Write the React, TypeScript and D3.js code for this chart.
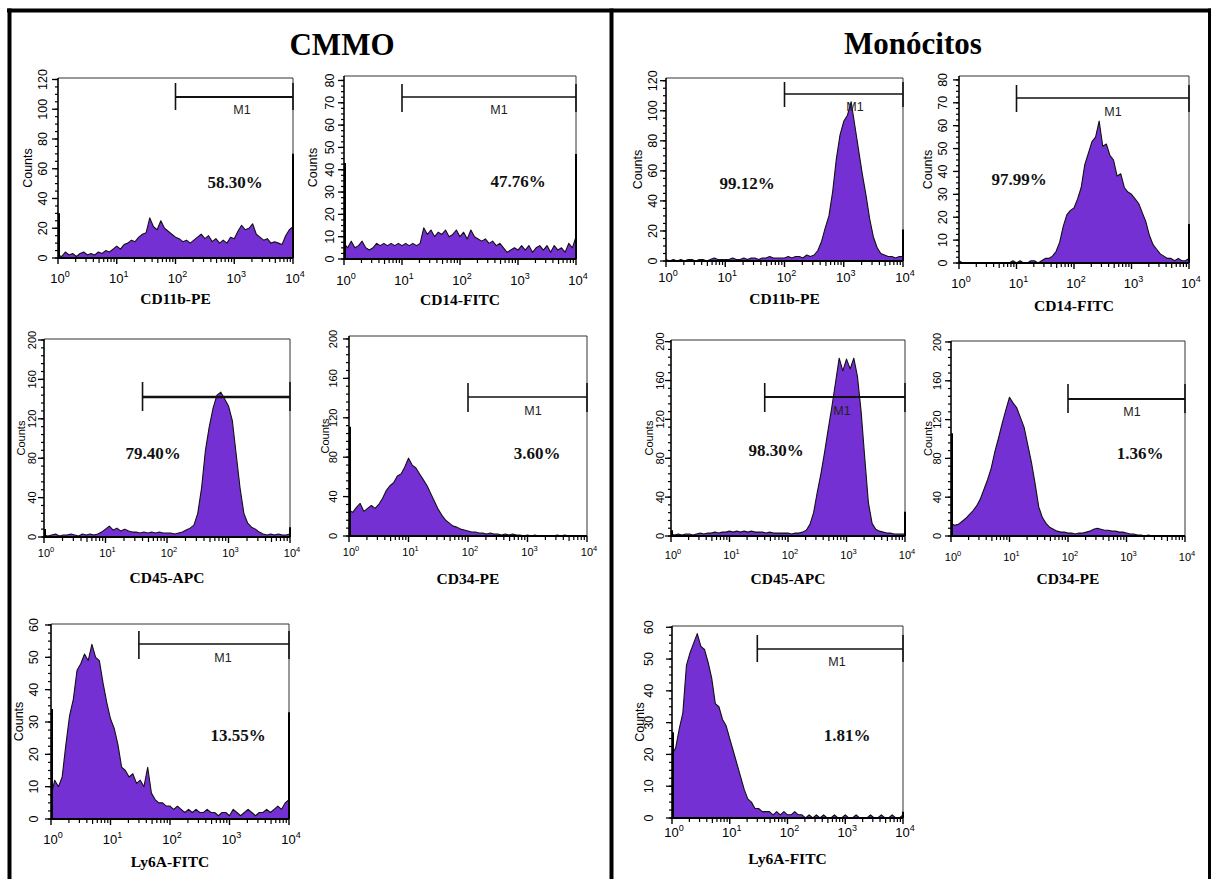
import React from 'react';
import * as d3 from 'd3';

// ---------- DATA (counts per channel, 16 channels per decade, 10^0 .. 10^4) ----------
const cmmoCD11b = [2,1,4,2,3,1,3,4,2,3,2,4,3,5,4,6,8,6,9,10,12,11,14,16,17,27,21,19,25,20,18,16,14,13,11,12,10,12,14,16,13,15,11,13,10,12,10,14,13,18,22,19,20,23,16,14,12,13,10,11,10,9,15,19,21];
const cmmoCD14 = [7,5,8,5,6,8,5,4,5,7,6,7,6,7,6,7,6,7,6,7,6,7,14,11,13,10,12,11,13,10,11,13,10,12,9,13,10,9,8,9,7,8,6,7,5,3,4,5,4,6,4,6,3,5,6,4,6,3,6,4,5,3,7,5,10];
const cmmoCD45 = [2,1,2,3,1,2,2,3,2,1,3,2,3,2,3,5,8,11,7,9,6,8,6,5,5,4,5,4,5,4,5,4,4,4,3,4,5,7,9,12,24,50,88,112,131,144,147,140,133,118,84,50,24,14,10,8,5,3,2,3,2,3,2,2,3];
const cmmoCD34 = [26,24,29,33,25,28,31,28,32,38,46,51,54,61,63,70,79,72,69,63,57,51,43,35,27,21,16,13,10,9,7,6,5,4,4,3,3,2,3,2,2,1,2,1,2,1,1,0,1,0,1,0,0,0,0,0,1,0,1,0,0,0,0,0,0];
const cmmoLy6A = [7,12,10,13,23,32,37,46,48,51,49,54,50,49,42,36,31,28,23,16,15,13,14,11,12,10,16,8,6,5,5,4,4,3,4,3,2,3,2,3,2,2,3,2,2,1,2,2,1,3,2,1,2,3,2,1,2,2,3,2,3,4,3,5,6];
const monoCD11b = [1,0,1,0,1,0,1,1,0,1,1,0,1,2,1,1,1,1,2,1,1,2,1,2,2,1,2,2,3,2,2,2,2,3,2,3,3,2,4,3,4,7,13,22,30,46,68,84,93,97,106,90,74,58,44,28,16,9,5,4,3,3,2,3,3];
const monoCD14 = [1,0,0,0,0,0,0,0,0,0,0,0,0,0,0,1,0,1,0,0,1,1,0,1,2,2,3,5,9,16,21,23,24,28,33,43,48,53,55,62,51,52,47,45,38,39,33,31,30,28,26,22,18,12,8,6,4,3,2,2,1,2,1,1,2];
const monoCD45 = [2,1,2,1,2,2,1,2,3,2,3,3,4,3,4,4,5,4,5,4,5,4,5,4,4,4,3,4,3,3,3,3,3,2,3,3,4,6,12,24,45,64,86,110,133,158,183,170,182,172,183,164,128,80,34,13,7,5,4,3,3,2,2,2,2];
const monoCD34 = [13,11,12,15,18,22,26,31,38,48,58,70,87,101,116,130,143,137,132,122,112,94,76,54,30,19,13,9,7,5,4,4,3,3,2,3,3,4,5,7,8,7,6,6,5,5,4,4,3,2,2,1,1,0,1,0,0,0,0,0,0,0,0,0,0];
const monoLy6A = [20,22,28,33,48,52,55,58,54,53,49,44,36,35,31,29,25,21,17,13,9,6,5,3,3,2,2,2,1,2,1,2,1,1,2,1,1,0,1,0,1,0,1,0,0,1,0,0,1,0,0,1,0,0,0,1,0,0,1,0,0,1,0,0,1];

const groupTitles = ['CMMO', 'Monócitos'];
const markers = ['CD11b-PE', 'CD14-FITC', 'CD45-APC', 'CD34-PE', 'Ly6A-FITC'];
const cmmoSeries = [cmmoCD11b, cmmoCD14, cmmoCD45, cmmoCD34, cmmoLy6A];
const monoSeries = [monoCD11b, monoCD14, monoCD45, monoCD34, monoLy6A];
const cmmoPercents = ['58.30%', '47.76%', '79.40%', '3.60%', '13.55%'];
const monoPercents = ['99.12%', '97.99%', '98.30%', '1.36%', '1.81%'];
const gateStarts = [100, 10, 40, 100, 30];
const cmmoLeftEdge = [30, 43, 8, 111, 34];
const cmmoRightEdge = [70, 47, 10, 0, 33];
const monoLeftEdge = [0, 0, 6, 106, 27];
const monoRightEdge = [21, 17, 25, 0, 2];
const yTicks120 = [0, 20, 40, 60, 80, 100, 120];
const yTicks80 = [0, 10, 20, 30, 40, 50, 60, 70, 80];
const yTicks200 = [0, 40, 80, 120, 160, 200];
const yTicks60 = [0, 10, 20, 30, 40, 50, 60];
const panelYTicks = [yTicks120, yTicks80, yTicks200, yTicks200, yTicks60];
const xDecades = [0, 1, 2, 3, 4];

// ---------- LAYOUT ----------
type L = {
  x0: number; x1: number; yTop: number; yZero: number; yMax: number; minorN: number;
  ylabDx: number; countsDx: number; xTickY: number; titleY: number;
  gateY: number; gateT: number; gateB: number; gateW: number;
  m1: [number, number] | null; pct: [number, number]; small: boolean;
};

const cmmoLayout: L[] = [
  { x0: 58, x1: 293, yTop: 78, yZero: 258, yMax: 121, minorN: 4, ylabDx: 15, countsDx: 30, xTickY: 278, titleY: 298, gateY: 97, gateT: 83, gateB: 110, gateW: 2, m1: [242, 110], pct: [235, 182], small: false },
  { x0: 344, x1: 576, yTop: 76, yZero: 259, yMax: 82, minorN: 4, ylabDx: 14, countsDx: 31, xTickY: 280, titleY: 299, gateY: 97, gateT: 84, gateB: 112, gateW: 1.6, m1: [499, 110], pct: [518, 181], small: false },
  { x0: 44, x1: 290, yTop: 339, yZero: 537, yMax: 201, minorN: 5, ylabDx: 12, countsDx: 23, xTickY: 552, titleY: 577, gateY: 397, gateT: 382, gateB: 411, gateW: 2.6, m1: null, pct: [153, 453], small: true },
  { x0: 349, x1: 587, yTop: 336, yZero: 536, yMax: 203, minorN: 5, ylabDx: 16, countsDx: 24, xTickY: 551, titleY: 578, gateY: 397, gateT: 383, gateB: 412, gateW: 1.6, m1: [533, 411], pct: [537, 453], small: true },
  { x0: 51, x1: 289, yTop: 624, yZero: 819, yMax: 60.3, minorN: 4, ylabDx: 17, countsDx: 32, xTickY: 839, titleY: 861, gateY: 644, gateT: 631, gateB: 659, gateW: 1.6, m1: [223, 658], pct: [238, 735], small: false },
];
const monoLayout: L[] = [
  { x0: 666, x1: 903, yTop: 78, yZero: 261, yMax: 121.8, minorN: 4, ylabDx: 13, countsDx: 28, xTickY: 277, titleY: 298, gateY: 94, gateT: 82, gateB: 107, gateW: 1.6, m1: [855, 107], pct: [747, 183], small: false },
  { x0: 959, x1: 1189, yTop: 76, yZero: 263, yMax: 81.7, minorN: 4, ylabDx: 16, countsDx: 31, xTickY: 283, titleY: 305, gateY: 98, gateT: 85, gateB: 112, gateW: 1.6, m1: [1113, 112], pct: [1019, 179], small: false },
  { x0: 671, x1: 905, yTop: 340, yZero: 536, yMax: 201.7, minorN: 5, ylabDx: 11, countsDx: 22, xTickY: 554, titleY: 578, gateY: 397, gateT: 383, gateB: 412, gateW: 1.8, m1: [842, 411], pct: [776, 450], small: true },
  { x0: 951, x1: 1185, yTop: 341, yZero: 536, yMax: 201, minorN: 5, ylabDx: 14, countsDx: 23, xTickY: 556, titleY: 578, gateY: 399, gateT: 384, gateB: 413, gateW: 1.8, m1: [1132, 412], pct: [1140, 453], small: true },
  { x0: 672, x1: 903, yTop: 626, yZero: 818, yMax: 60.4, minorN: 4, ylabDx: 23, countsDx: 32, xTickY: 832, titleY: 858, gateY: 649, gateT: 635, gateB: 662, gateW: 1.6, m1: [837, 662], pct: [847, 735], small: false },
];

const SANS = 'Liberation Sans, Arial, sans-serif';
const SERIF = 'Liberation Serif, Times New Roman, serif';
const FILL = '#7530d4';

type PanelProps = {
  lay: L; data: number[]; title: string; pct: string; gateFrom: number;
  ticks: number[]; edgeL: number; edgeR: number;
};

function Panel({ lay, data, title, pct, gateFrom, ticks, edgeL, edgeR }: PanelProps) {
  const x = d3.scaleLog().domain([1, 1e4]).range([lay.x0, lay.x1]);
  const y = d3.scaleLinear().domain([0, lay.yMax]).range([lay.yZero, lay.yTop]);
  const n = data.length - 1;
  const pts: [number, number][] = data.map((v, i) => [Math.pow(10, (4 * i) / n), v]);
  const area = d3.area<[number, number]>().x((d) => x(d[0])).y0(lay.yZero).y1((d) => y(d[1]));
  const line = d3.line<[number, number]>().x((d) => x(d[0])).y((d) => y(d[1]));
  const step = ticks[1] - ticks[0];
  const minor = d3.range(0, ticks[ticks.length - 1] + 0.001, step / lay.minorN);
  const xMinor: number[] = [];
  for (let k = 0; k < 4; k++) for (let m = 2; m <= 9; m++) xMinor.push(m * Math.pow(10, k));
  const tickFs = lay.small ? 11 : 12.5;
  const xFs = lay.small ? 11 : 13;
  const supFs = lay.small ? 7.5 : 9;
  const cy = (lay.yTop + lay.yZero) / 2;
  const cx = (lay.x0 + lay.x1) / 2;
  return (
    <g>
      {/* frame */}
      <line x1={lay.x0} y1={lay.yTop} x2={lay.x1} y2={lay.yTop} stroke="#333" strokeWidth={1} />
      <line x1={lay.x1} y1={lay.yTop} x2={lay.x1} y2={lay.yZero} stroke="#333" strokeWidth={1} />
      {/* histogram */}
      <path d={area(pts) || ''} fill={FILL} />
      <path d={line(pts) || ''} fill="none" stroke="#111" strokeWidth={1.1} strokeLinejoin="round" />
      {edgeL > 0 && <line x1={lay.x0 + 1} x2={lay.x0 + 1} y1={lay.yZero} y2={y(edgeL)} stroke="#000" strokeWidth={2} />}
      {edgeR > 0 && <line x1={lay.x1} x2={lay.x1} y1={lay.yZero} y2={y(edgeR)} stroke="#000" strokeWidth={2} />}
      {/* axes */}
      <line x1={lay.x0} y1={lay.yTop} x2={lay.x0} y2={lay.yZero + 1} stroke="#000" strokeWidth={1.6} />
      <line x1={lay.x0} y1={lay.yZero} x2={lay.x1} y2={lay.yZero} stroke="#000" strokeWidth={1.8} />
      {minor.map((v, i) => (
        <line key={'ym' + i} x1={lay.x0 - 3} x2={lay.x0} y1={y(v)} y2={y(v)} stroke="#000" strokeWidth={1.2} />
      ))}
      {ticks.map((v) => (
        <g key={'yt' + v}>
          <line x1={lay.x0 - 6} x2={lay.x0} y1={y(v)} y2={y(v)} stroke="#000" strokeWidth={1.3} />
          <text
            transform={`translate(${lay.x0 - lay.ylabDx},${y(v)}) rotate(-90)`}
            textAnchor="middle" dominantBaseline="central"
            fontFamily={SANS} fontSize={tickFs} fill="#000"
          >{v}</text>
        </g>
      ))}
      {xMinor.map((v, i) => {
        const mant = Math.round(v / Math.pow(10, Math.floor(Math.log10(v) + 1e-9)));
        return (
          <line key={'xm' + i} x1={x(v)} x2={x(v)} y1={lay.yZero} y2={lay.yZero + (mant === 5 ? 5 : 4)} stroke="#000" strokeWidth={1.2} />
        );
      })}
      {xDecades.map((k) => (
        <g key={'xd' + k}>
          <line x1={x(Math.pow(10, k))} x2={x(Math.pow(10, k))} y1={lay.yZero} y2={lay.yZero + 6} stroke="#000" strokeWidth={1.4} />
          <text x={x(Math.pow(10, k)) + 2} y={lay.xTickY + 5} textAnchor="middle" fontFamily={SANS} fontSize={xFs} fill="#000">
            10<tspan dy={-xFs * 0.45} fontSize={supFs}>{k}</tspan>
          </text>
        </g>
      ))}
      <text x={lay.x0 - lay.countsDx} y={cy} transform={`rotate(-90,${lay.x0 - lay.countsDx},${cy})`}
        textAnchor="middle" dominantBaseline="central" fontFamily={SANS} fontSize={tickFs} fill="#000">Counts</text>
      <text x={cx} y={lay.titleY} textAnchor="middle" dominantBaseline="central" fontFamily={SERIF}
        fontWeight="bold" fontSize={15.5}>{title}</text>
      {/* gate */}
      <line x1={x(gateFrom)} x2={lay.x1} y1={lay.gateY} y2={lay.gateY} stroke="#111" strokeWidth={lay.gateW} />
      <line x1={x(gateFrom)} x2={x(gateFrom)} y1={lay.gateT} y2={lay.gateB} stroke="#111" strokeWidth={1.6} />
      <line x1={lay.x1} x2={lay.x1} y1={lay.gateT} y2={lay.gateB} stroke="#111" strokeWidth={1.6} />
      {lay.m1 && (
        <text x={lay.m1[0]} y={lay.m1[1]} textAnchor="middle" dominantBaseline="central" fontFamily={SANS}
          fontSize={12.5} fill="#222">M1</text>
      )}
      <text x={lay.pct[0]} y={lay.pct[1]} textAnchor="middle" dominantBaseline="central" fontFamily={SERIF}
        fontWeight="bold" fontSize={17} fill="#111">{pct}</text>
    </g>
  );
}

export default function App() {
  return (
    <svg width={1212} height={879} style={{ position: 'absolute', left: 0, top: 0, background: '#fff' }}>
      <rect x={0} y={0} width={1212} height={879} fill="#fff" />
      {/* outer frame */}
      <line x1={7} y1={10.5} x2={1211} y2={10.5} stroke="#000" strokeWidth={4} />
      <line x1={9.5} y1={8.5} x2={9.5} y2={879} stroke="#000" strokeWidth={4} />
      <line x1={611.5} y1={8.5} x2={611.5} y2={879} stroke="#000" strokeWidth={4} />
      <line x1={1209.5} y1={8.5} x2={1209.5} y2={879} stroke="#000" strokeWidth={3} />
      <text x={342} y={55} textAnchor="middle" fontFamily={SERIF} fontWeight="bold" fontSize={31}>{groupTitles[0]}</text>
      <text x={913} y={54} textAnchor="middle" fontFamily={SERIF} fontWeight="bold" fontSize={31}>{groupTitles[1]}</text>
      {markers.map((m, i) => (
        <Panel key={'c' + i} lay={cmmoLayout[i]} data={cmmoSeries[i]} title={m} pct={cmmoPercents[i]}
          gateFrom={gateStarts[i]} ticks={panelYTicks[i]} edgeL={cmmoLeftEdge[i]} edgeR={cmmoRightEdge[i]} />
      ))}
      {markers.map((m, i) => (
        <Panel key={'m' + i} lay={monoLayout[i]} data={monoSeries[i]} title={m} pct={monoPercents[i]}
          gateFrom={gateStarts[i]} ticks={panelYTicks[i]} edgeL={monoLeftEdge[i]} edgeR={monoRightEdge[i]} />
      ))}
    </svg>
  );
}
